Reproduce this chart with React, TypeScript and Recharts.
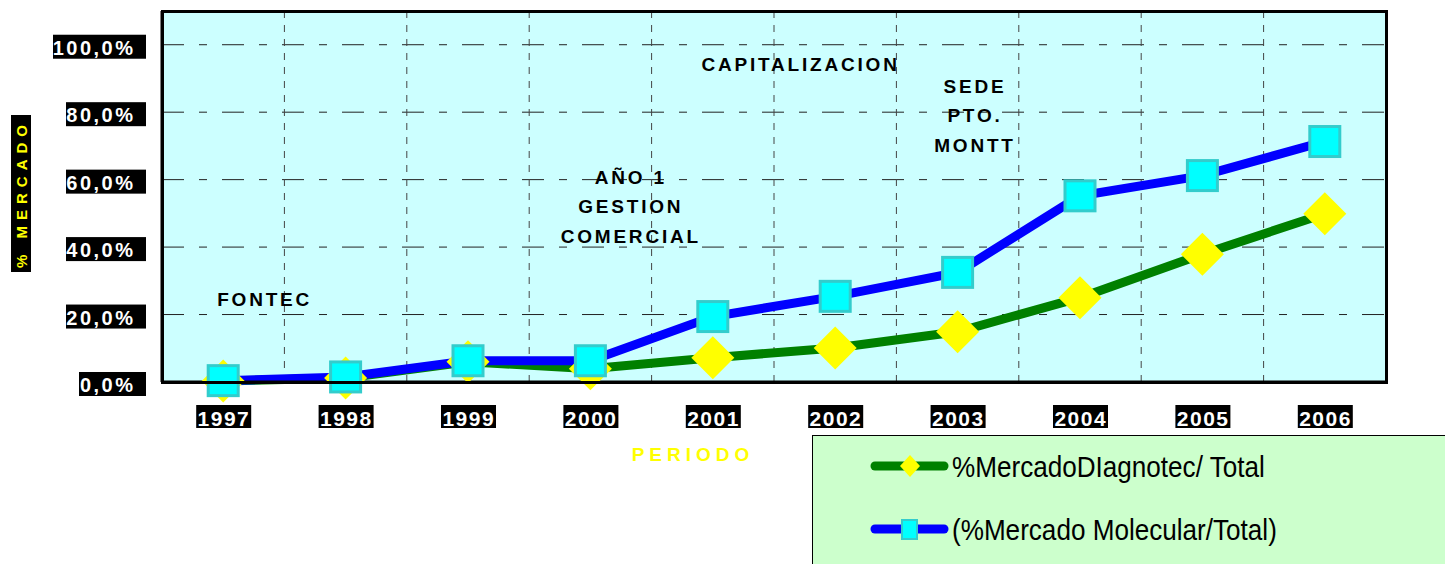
import React from "react";
import { CartesianGrid, Line, LineChart, ReferenceDot, XAxis, YAxis } from "recharts";

document.body.style.margin = "0";

const years = ["1997", "1998", "1999", "2000", "2001", "2002", "2003", "2004", "2005", "2006"];
const diagnotec = [0.3, 1.2, 6.0, 3.9, 7.2, 10.1, 14.9, 25.0, 37.9, 49.9];
const molecular = [0.4, 1.5, 6.3, 6.3, 19.4, 25.4, 32.5, 55.2, 61.2, 71.3];
const yTicks = [0, 20, 40, 60, 80, 100];
const seriesNames = ["%MercadoDIagnotec/ Total", "(%Mercado Molecular/Total)"];
const yTitle = "% MERCADO";
const xTitle = "PERIODO";

const notes = [
  { year: "1997", value: 24.5, lines: ["FONTEC"] },
  { year: "2000", value: 60.9, lines: ["AÑO 1", "GESTION", "COMERCIAL"] },
  { year: "2002", value: 94.3, lines: ["CAPITALIZACION"] },
  { year: "2003", value: 87.8, lines: ["SEDE", "PTO.", "MONTT"] },
];
const noteShift = [40, 39, -36, 16];

const W = 1445;
const H = 564;
const M = { top: 11, right: 59, left: 0, bottom: 0 };
const Y_W = 162;
const X_H = 182;
const plotW = W - Y_W - M.right;
const plotH = H - M.top - X_H;
const FONT = "'Liberation Sans', Arial, sans-serif";

const data = years.map((year, i) => ({ year, diag: diagnotec[i], mol: molecular[i] }));

const pct = (v: number) => v.toFixed(1).replace(".", ",") + "%";

function YTick({ x, y, payload }: any) {
  const label = pct(payload.value);
  const end = x - 29;
  const left = end - label.length * 13 - 2;
  return (
    <g>
      <rect x={left} y={y - 10} width={x - 16 - left} height={24} fill="#000" />
      <text x={end + 2.5} y={y + 10} textAnchor="end" fill="#fff" fontSize={20} fontWeight="bold" letterSpacing={2.5} fontFamily={FONT}>
        {label}
      </text>
    </g>
  );
}

function XTick({ x, y, payload }: any) {
  return (
    <g>
      <rect x={x - 27} y={y + 23} width={55} height={23} fill="#000" />
      <text x={x + 0.75} y={y + 44} textAnchor="middle" fill="#fff" fontSize={21} fontWeight="bold" letterSpacing={1.5} fontFamily={FONT}>
        {payload.value}
      </text>
    </g>
  );
}

function Diamond({ cx, cy }: any) {
  if (cx == null || cy == null) return null;
  const r = 21.5;
  return <polygon points={`${cx},${cy - r} ${cx + r},${cy} ${cx},${cy + r} ${cx - r},${cy}`} fill="#FFFF00" />;
}

function Square({ cx, cy }: any) {
  if (cx == null || cy == null) return null;
  return <rect x={cx - 15} y={cy - 15} width={30} height={30} fill="#00FFFF" stroke="#33CCCC" strokeWidth={3} />;
}

function NoteLabel({ viewBox, lines, dx }: any) {
  const cx = viewBox.x + viewBox.width / 2 + dx;
  const cy = viewBox.y + viewBox.height / 2;
  return (
    <text textAnchor="middle" fill="#000" fontSize={19} fontWeight="bold" letterSpacing={2.8} fontFamily={FONT}>
      {lines.map((l: string, i: number) => (
        <tspan key={l} x={cx + 1.4} y={cy + 7 + i * 29.5}>
          {l}
        </tspan>
      ))}
    </text>
  );
}

function YTitle({ viewBox }: any) {
  const cx = viewBox.x + 21;
  const cy = viewBox.y + viewBox.height / 2 - 3;
  return (
    <g>
      <rect x={cx - 10} y={cy - 78.5} width={20} height={157} fill="#000" />
      <text
        x={cx}
        y={cy}
        transform={`rotate(-90 ${cx} ${cy})`}
        textAnchor="middle"
        dominantBaseline="central"
        fill="#FFFF00"
        fontSize={15}
        fontWeight="bold"
        letterSpacing={6}
        fontFamily={FONT}
      >
        {yTitle}
      </text>
    </g>
  );
}

function XTitle({ viewBox }: any) {
  return (
    <text x={viewBox.x + viewBox.width / 2 - 81} y={viewBox.y + 79} textAnchor="middle" fill="#FFFF00" fontSize={19} fontWeight="bold" letterSpacing={5} fontFamily={FONT}>
      {xTitle}
    </text>
  );
}

function LegendBox() {
  const rows = [
    { name: seriesNames[0], color: "#008000", marker: "diamond" },
    { name: seriesNames[1], color: "#0000FF", marker: "square" },
  ];
  return (
    <div style={{ position: "absolute", left: 812, top: 435, width: 700, height: 200, background: "#CCFFCC", border: "1px solid #000" }}>
      <svg width={700} height={200}>
        {rows.map((r, i) => {
          const cy = 30 + i * 63;
          return (
            <g key={r.name}>
              <line x1={62} x2={131} y1={cy} y2={cy} stroke={r.color} strokeWidth={9} strokeLinecap="round" />
              {r.marker === "diamond" ? (
                <polygon points={`97,${cy - 11} 107,${cy} 97,${cy + 11} 87,${cy}`} fill="#FFFF00" />
              ) : (
                <rect x={89} y={cy - 9} width={15} height={19} fill="#00FFFF" stroke="#33CCCC" strokeWidth={2} />
              )}
              <text transform={`translate(139 ${cy + 11}) scale(0.87 1)`} fontSize={30} fill="#000" fontFamily={FONT}>
                {r.name}
              </text>
            </g>
          );
        })}
      </svg>
    </div>
  );
}

export default function App() {
  const vGen = ({ offset }: any) => {
    const left = offset?.left ?? Y_W;
    const width = offset?.width ?? plotW;
    return years.slice(1).map((_, i) => left + ((i + 1) * width) / years.length);
  };
  return (
    <div style={{ position: "relative", width: W, height: H, overflow: "hidden", background: "#fff" }}>
      <LineChart width={W} height={H} data={data} margin={M}>
        <CartesianGrid vertical={false} fill="#CCFFFF" fillOpacity={1} stroke="#222" strokeDasharray="22 15 8 15" />
        <CartesianGrid horizontal={false} verticalCoordinatesGenerator={vGen} stroke="#444" strokeDasharray="7 7" />
        <XAxis
          dataKey="year"
          height={X_H}
          interval={0}
          padding={{ left: plotW / years.length / 2, right: plotW / years.length / 2 }}
          axisLine={{ stroke: "#000", strokeWidth: 3 }}
          tickLine={false}
          tickSize={0}
          tickMargin={0}
          tick={<XTick />}
          label={<XTitle />}
        />
        <YAxis
          width={Y_W}
          domain={[0, 110]}
          ticks={yTicks}
          interval={0}
          axisLine={{ stroke: "#000", strokeWidth: 3 }}
          tickLine={false}
          tickSize={0}
          tickMargin={0}
          tick={<YTick />}
          label={<YTitle />}
        />
        {notes.map((n, i) => (
          <ReferenceDot key={n.lines[0]} x={n.year} y={n.value} r={1} fill="none" stroke="none" label={<NoteLabel lines={n.lines} dx={noteShift[i]} />} />
        ))}
        <Line
          type="linear"
          dataKey="diag"
          name={seriesNames[0]}
          stroke="#008000"
          strokeWidth={9}
          dot={(p: any) => <Diamond key={`d${p.index}`} {...p} />}
          activeDot={false}
          isAnimationActive={false}
        />
        <Line
          type="linear"
          dataKey="mol"
          name={seriesNames[1]}
          stroke="#0000FF"
          strokeWidth={9}
          dot={(p: any) => <Square key={`s${p.index}`} {...p} />}
          activeDot={false}
          isAnimationActive={false}
        />
      </LineChart>
      {/* plot frame */}
      <div
        style={{
          position: "absolute",
          left: Y_W - 1.5,
          top: M.top - 1.5,
          width: plotW + 3,
          height: plotH + 3,
          border: "3px solid #000",
          boxSizing: "border-box",
          pointerEvents: "none",
        }}
      />
      <LegendBox />
    </div>
  );
}
